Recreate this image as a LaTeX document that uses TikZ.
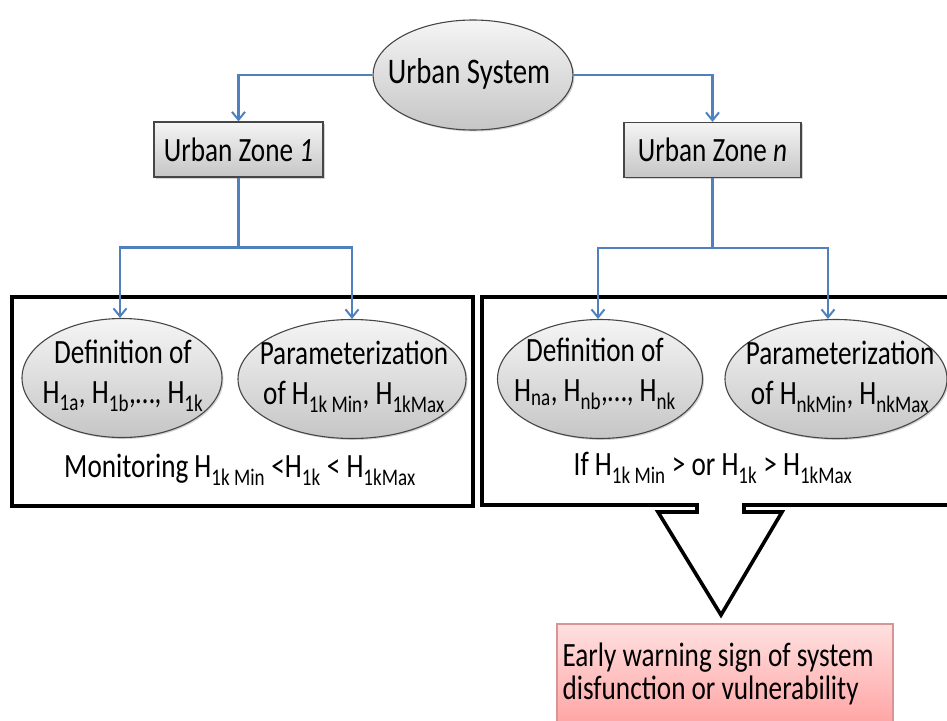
\documentclass[tikz,border=0pt]{standalone}
\usepackage{fontspec}
\setmainfont{Carlito}[FakeStretch=0.8]
\usetikzlibrary{shapes.geometric,arrows.meta,shadows}
\definecolor{connblue}{RGB}{79,129,189}
\definecolor{edgegray}{RGB}{70,70,70}
\definecolor{warnedge}{RGB}{217,149,148}
\tikzset{
  conn/.style={draw=connblue, line width=2.4pt, -{Straight Barb[length=8pt,width=13pt,line width=2pt]}},
  plain/.style={draw=connblue, line width=2.4pt},
  grayfill/.style={top color=gray!8, bottom color=gray!45, draw=edgegray, line width=1.1pt,
     drop shadow={shadow xshift=1.5pt, shadow yshift=-1.5pt, opacity=.35}},
  oval/.style={grayfill, ellipse, inner sep=0pt},
  zonebox/.style={grayfill, rectangle, inner sep=0pt, minimum width=169pt, minimum height=55pt},
  frame/.style={draw=black, line width=3.6pt},
  txt/.style={align=center, inner sep=0pt}
}
\newcommand{\Hsub}[1]{H\textsubscript{#1}}
\begin{document}
\begin{tikzpicture}[x=1pt,y=-1pt, every node/.style={font=\fontsize{34}{40}\selectfont}]
\useasboundingbox (0,0) rectangle (947,720);
% top
\node[oval, minimum width=200pt, minimum height=110pt] (sys) at (473,75) {};
\node[txt, font=\fontsize{36}{40}\selectfont] (syst) at (469,74) {Urban System};
\node[zonebox] (z1) at (238.5,149.5) {Urban Zone \textit{1}};
\node[zonebox, minimum width=177pt] (zn) at (712.5,150) {Urban Zone \textit{n}};
% frames
\draw[frame] (12,297) rectangle (473,506);
\draw[frame] (960,297) -- (482,297) -- (482,505) -- (697,505) -- (697,512) -- (658,512)
   -- (721,615) -- (782,512) -- (744,512) -- (744,505) -- (960,505);
% inner ellipses
\node[oval, minimum width=200pt, minimum height=119pt] (d1) at (122,378) {};
\node[txt] (d1t) at (123,376) {Definition of\\\Hsub{1a}, \Hsub{1b},…, \Hsub{1k}};
\node[oval, minimum width=228pt, minimum height=119pt] (p1) at (352,379) {};
\node[txt] (p1t) at (354,377) {Parameterization\\of \Hsub{1k Min}, \Hsub{1kMax}};
\node[oval, minimum width=205pt, minimum height=119pt] (d2) at (600,379) {};
\node[txt] (d2t) at (595,374) {Definition of\\\Hsub{na}, \Hsub{nb},…, \Hsub{nk}};
\node[oval, minimum width=222pt, minimum height=119pt] (p2) at (836,379) {};
\node[txt] (p2t) at (840,377) {Parameterization\\of \Hsub{nkMin}, \Hsub{nkMax}};
\node (mon) at (240,470) {Monitoring \Hsub{1k Min} <\Hsub{1k} < \Hsub{1kMax}};
\node (iff) at (713,468) {If \Hsub{1k Min} > or \Hsub{1k} > \Hsub{1kMax}};
% warning box
\node[rectangle, top color=red!12, bottom color=red!38, draw=warnedge, line width=1.2pt,
      minimum width=336pt, minimum height=110pt, inner sep=0pt] (warn) at (725,679) {};
\node[align=left, font=\fontsize{34}{33}\selectfont] (warntxt) at (718,674)
   {Early warning sign of system\\disfunction or vulnerability};
% connectors
\draw[conn] (sys.west) -| (z1.north);
\draw[conn] (sys.east) -| (zn.north);
\coordinate (j1) at ([yshift=-70pt]z1.south);
\coordinate (jn) at ([yshift=-70pt]zn.south);
\draw[plain] (z1.south) -- (j1);
\draw[plain] (zn.south) -- (jn);
\draw[conn] (j1) -| ([xshift=-2pt]d1.north);
\draw[conn] (j1) -| (p1.north);
\draw[conn] (jn) -| ([xshift=-2pt]d2.north);
\draw[conn] (jn) -| ([xshift=-8pt]p2.north);
\end{tikzpicture}
\end{document}
